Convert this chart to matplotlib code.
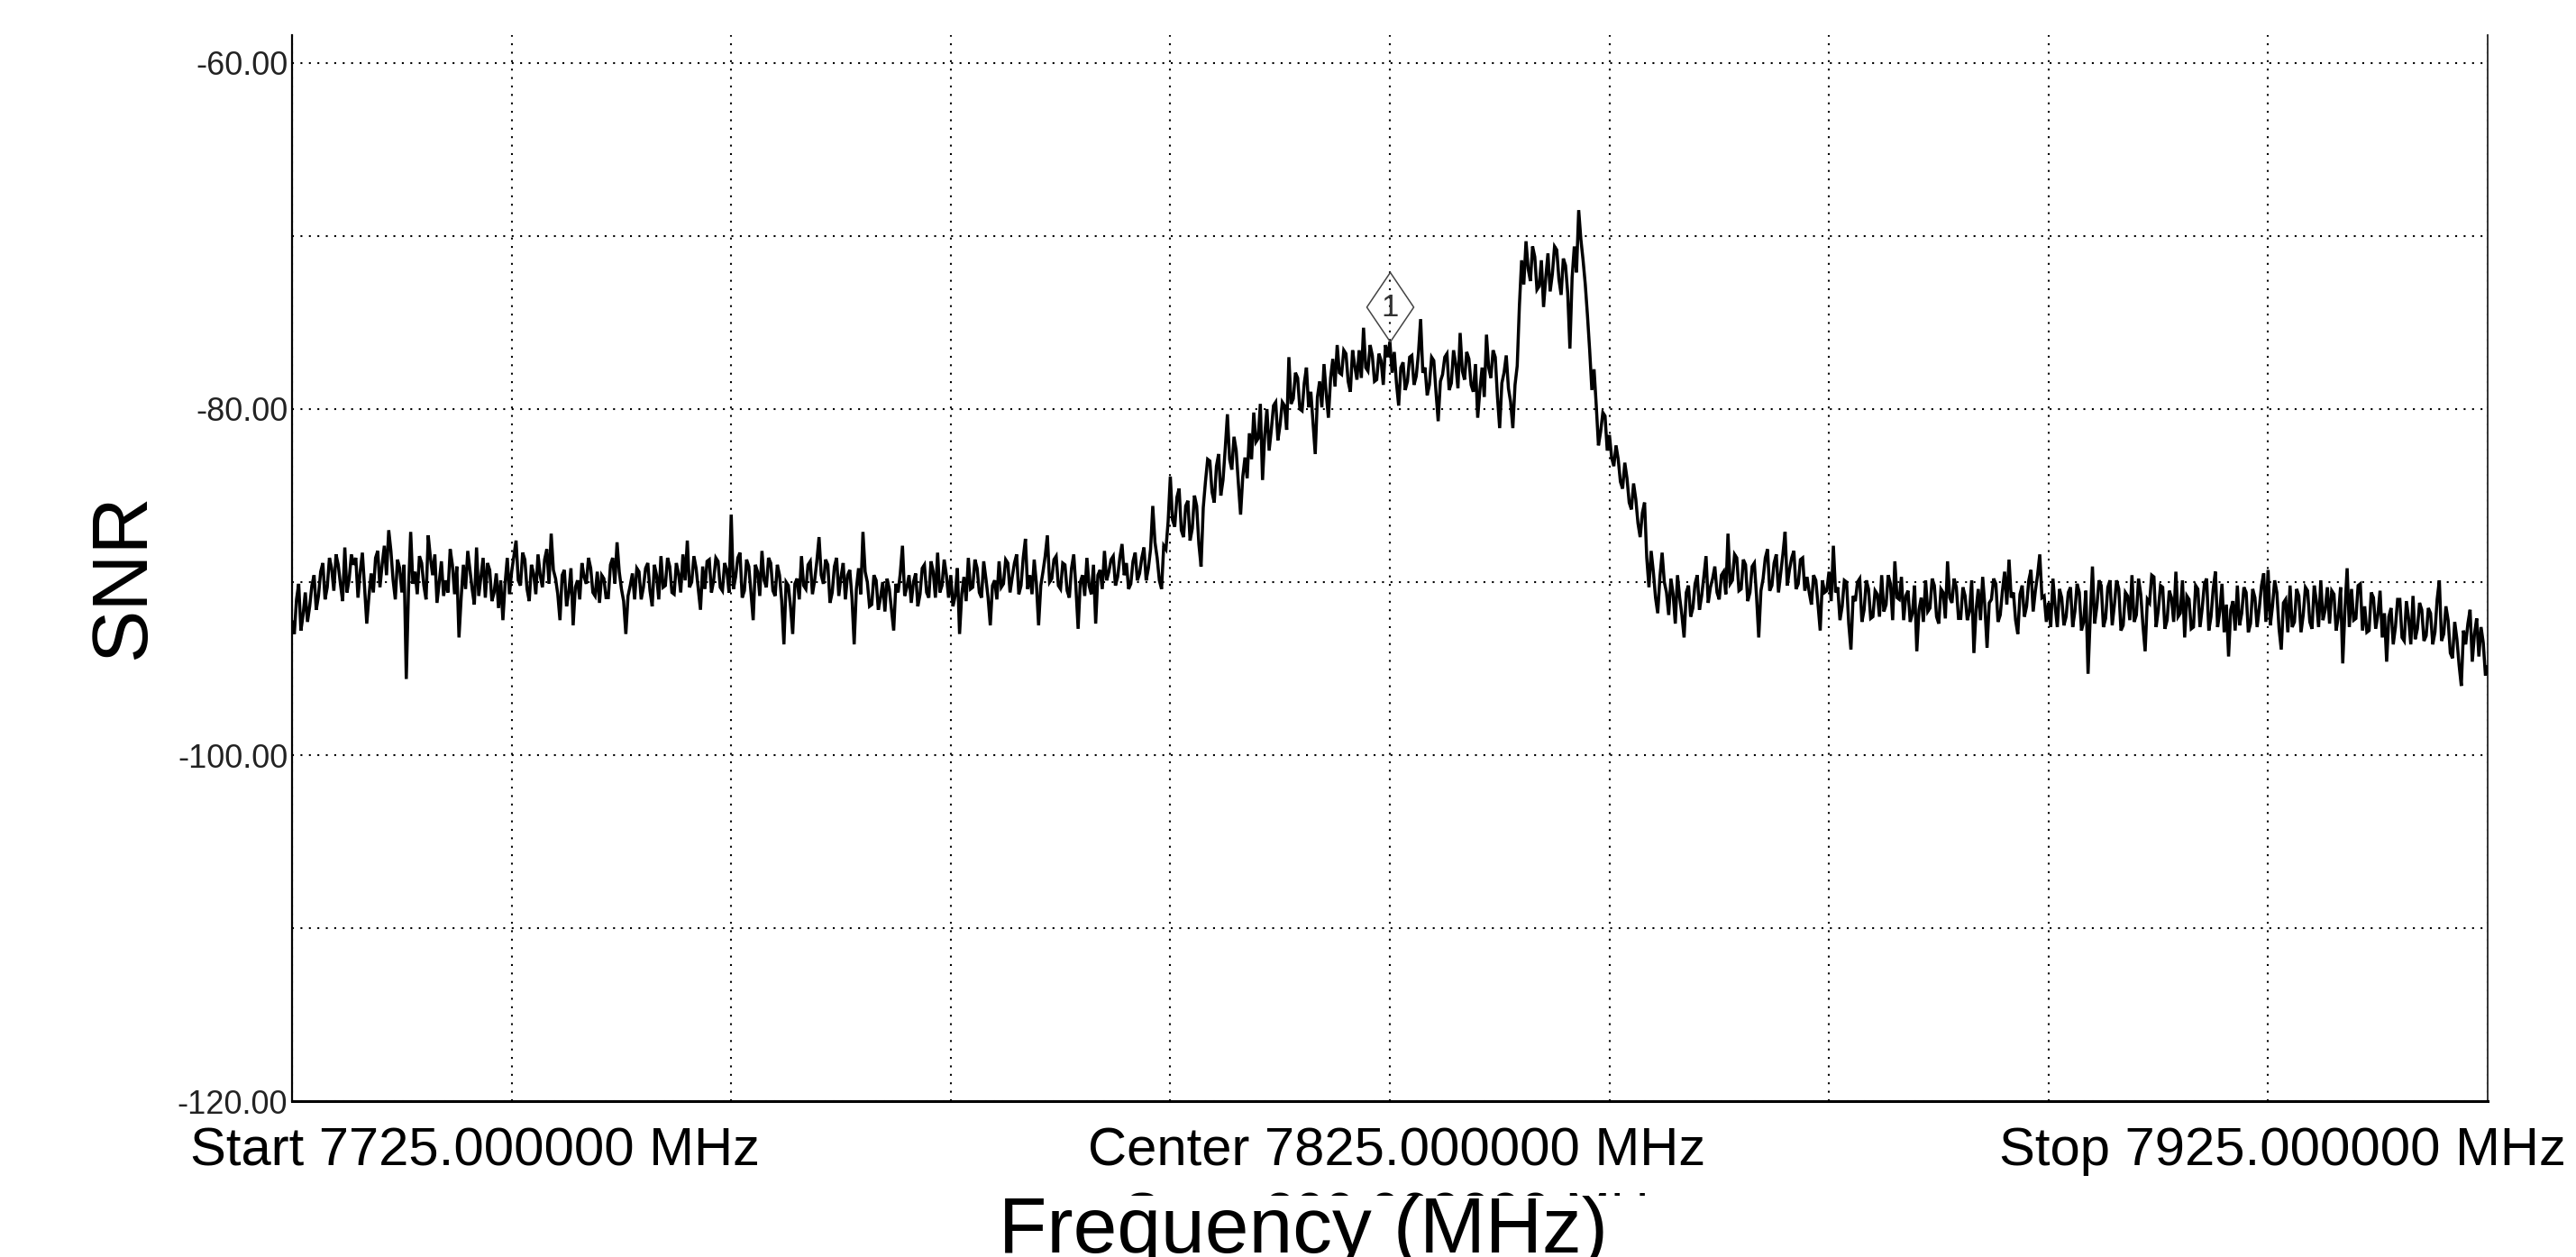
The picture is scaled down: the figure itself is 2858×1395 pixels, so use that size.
import numpy as np
import matplotlib
matplotlib.use("Agg")
import matplotlib.pyplot as plt
from matplotlib.path import Path
from matplotlib.patches import Rectangle

plt.rcParams["font.family"] = ["Liberation Sans", "DejaVu Sans"]

# sweep settings (MHz)
sweep_start = 7725.0
sweep_stop = 7925.0
sweep_center = 7825.0
sweep_span = 200.0

# trace levels on the 0.4 MHz grid, one list per 20 MHz division
level_div1 = [
    -92.3, -91.0, -92.8, -90.6, -91.4, -89.6, -90.8, -88.9, -90.3, -89.2,
    -88.4, -90.1, -88.0, -89.8, -89.0, -90.9, -88.3, -92.4, -89.5, -88.6,
    -90.3, -87.9, -87.0, -89.9, -88.7, -90.6, -95.6, -87.1, -89.4, -88.5,
    -90.2, -87.3, -89.6, -91.2, -88.8, -89.9, -88.1, -90.7, -93.2, -89.0,
    -88.2, -90.4, -88.0, -89.7, -90.9, -89.3, -90.6, -91.5, -92.2, -88.6]
level_div2 = [
    -89.4, -87.6, -90.2, -88.7, -91.1, -89.5, -88.4, -90.3, -88.1, -87.2,
    -89.8, -92.2, -89.3, -90.6, -92.5, -89.9, -88.9, -90.1, -89.2, -90.8,
    -91.2, -89.8, -90.9, -88.6, -87.7, -90.4, -93.0, -90.2, -91.0, -89.4,
    -90.3, -88.9, -91.4, -89.6, -88.5, -90.2, -89.1, -90.7, -89.5, -88.4,
    -87.6, -90.0, -89.2, -91.6, -90.4, -88.7, -89.9, -88.8, -90.5, -89.3]
level_div3 = [
    -86.1, -89.7, -88.3, -90.5, -89.1, -92.2, -89.4, -88.2, -90.3, -88.9,
    -90.8, -89.6, -93.6, -90.2, -93.0, -89.8, -88.5, -90.4, -88.8, -89.9,
    -87.4, -90.1, -89.0, -90.6, -88.6, -89.7, -91.0, -89.3, -93.6, -89.2,
    -87.1, -90.0, -91.3, -89.9, -90.9, -91.7, -90.4, -92.8, -90.6, -87.9,
    -90.3, -91.2, -89.5, -90.7, -89.0, -90.9, -89.4, -88.3, -90.2, -89.6]
level_div4 = [
    -89.6, -90.8, -93.0, -89.7, -88.6, -90.3, -89.2, -90.9, -89.8, -92.5,
    -89.9, -88.8, -90.1, -88.9, -89.7, -88.4, -90.2, -87.5, -89.6, -88.7,
    -92.5, -89.4, -87.3, -89.8, -88.5, -90.4, -89.0, -90.9, -88.4, -92.7,
    -89.6, -88.6, -90.7, -92.4, -89.3, -88.2, -89.4, -88.5, -89.7, -87.8,
    -88.9, -90.1, -88.3, -89.5, -88.0, -89.2, -85.6, -88.6, -90.4, -88.1]
level_div5 = [
    -83.9, -86.8, -84.6, -87.4, -85.3, -86.9, -85.6, -89.1, -84.2, -83.0,
    -85.4, -82.6, -84.1, -80.3, -83.5, -82.4, -86.1, -82.8, -81.4, -80.2,
    -81.7, -84.1, -80.0, -81.2, -79.6, -80.9, -79.8, -77.0, -79.4, -78.2,
    -80.1, -77.6, -79.0, -82.6, -78.4, -77.4, -80.5, -77.1, -76.3, -78.0,
    -76.8, -79.0, -77.5, -76.6, -75.3, -77.8, -76.9, -78.3, -77.2, -76.3]
level_div6 = [
    -76.1, -76.7, -79.8, -77.3, -78.4, -76.9, -78.1, -74.8, -77.6, -78.6,
    -77.2, -80.7, -78.0, -76.8, -78.5, -77.4, -75.6, -78.3, -77.1, -79.0,
    -80.5, -77.6, -75.7, -78.2, -77.0, -81.1, -77.9, -78.8, -81.1, -77.5,
    -71.4, -70.3, -72.6, -71.2, -72.9, -74.1, -71.0, -72.2, -70.8, -73.4,
    -71.7, -76.5, -70.6, -68.5, -71.4, -74.6, -78.9, -79.8, -81.3, -80.4]
level_div7 = [
    -81.5, -83.3, -82.9, -84.6, -84.0, -85.8, -85.2, -87.4, -85.4, -90.3,
    -89.4, -91.8, -88.3, -90.6, -89.8, -92.4, -90.9, -93.2, -90.2, -91.5,
    -89.6, -90.8, -88.5, -90.3, -89.1, -91.0, -89.4, -87.2, -89.9, -88.6,
    -90.4, -89.0, -90.6, -88.9, -93.2, -89.8, -88.1, -90.2, -88.4, -89.5,
    -87.1, -89.3, -88.2, -90.1, -88.6, -89.7, -91.3, -89.9, -92.8, -90.6]
level_div8 = [
    -89.4, -87.9, -90.3, -91.4, -90.0, -93.9, -91.1, -89.8, -91.6, -90.4,
    -92.0, -90.7, -89.6, -91.3, -90.1, -88.8, -91.0, -92.2, -90.5, -91.8,
    -94.0, -90.9, -89.9, -91.5, -90.2, -92.4, -90.6, -88.8, -91.2, -90.3,
    -92.1, -90.8, -91.7, -94.1, -90.4, -89.7, -93.8, -91.0, -90.1, -91.9,
    -89.4, -88.7, -90.6, -93.0, -90.2, -91.4, -89.3, -90.5, -88.4, -90.8]
level_div9 = [
    -91.2, -89.8, -92.6, -90.9, -92.0, -90.3, -91.7, -90.6, -92.3, -95.3,
    -89.1, -91.4, -90.2, -92.1, -89.9, -91.3, -90.4, -92.5, -90.8, -89.6,
    -91.9, -90.7, -94.0, -91.2, -89.7, -91.6, -90.3, -92.2, -90.9, -89.4,
    -91.8, -93.2, -91.0, -92.6, -90.4, -91.5, -89.8, -92.0, -89.4, -91.7,
    -92.9, -94.3, -91.1, -90.2, -91.8, -90.6, -92.4, -90.9, -91.5, -89.5]
level_div10 = [
    -89.3, -91.4, -90.6, -93.9, -91.0, -90.2, -92.3, -90.8, -91.9, -90.5,
    -92.7, -91.1, -89.9, -91.6, -92.4, -90.7, -92.0, -94.7, -89.2, -90.4,
    -92.1, -90.1, -91.4, -92.8, -90.9, -91.9, -93.2, -94.6, -91.5, -92.6,
    -91.0, -93.4, -92.1, -90.8, -92.7, -91.6, -93.1, -91.8, -92.9, -89.9,
    -93.0, -92.2, -94.4, -93.3, -96.0, -93.6, -91.6, -93.0, -94.3, -93.5,
    -94.9]

# readings halfway between the grid points above (0.2 MHz offset)
mid_div1 = [
    -93.0, -90.1, -91.9, -92.3, -90.2, -91.6, -89.4, -91.0, -88.6, -90.5,
    -89.0, -91.1, -90.6, -88.4, -88.6, -89.4, -90.3, -90.8, -90.6, -88.2,
    -89.0, -89.6, -88.2, -91.0, -89.2, -89.0, -90.5, -90.1, -90.7, -88.9,
    -91.0, -88.6, -88.4, -90.0, -90.8, -90.6, -89.0, -89.1, -90.9, -90.4,
    -89.3, -91.3, -90.8, -88.6, -88.9, -91.1, -89.5, -89.9, -90.1, -90.7]
mid_div2 = [
    -88.5, -89.9, -88.3, -90.4, -89.0, -90.7, -89.6, -88.7, -90.1, -89.3,
    -90.7, -89.6, -91.4, -89.2, -90.3, -91.0, -89.7, -88.6, -90.6, -89.4,
    -89.6, -90.9, -89.0, -90.1, -89.4, -91.1, -90.8, -89.5, -89.2, -91.0,
    -89.2, -90.5, -89.0, -91.0, -90.3, -88.6, -90.6, -88.9, -90.6, -89.9,
    -90.3, -88.5, -90.4, -89.1, -88.8, -90.6, -88.6, -90.3, -88.9, -90.6]
mid_div3 = [
    -90.4, -88.6, -90.9, -88.7, -90.6, -89.0, -90.8, -89.9, -88.6, -90.5,
    -89.0, -91.1, -90.0, -91.4, -90.1, -91.0, -90.2, -89.0, -90.7, -88.8,
    -89.6, -88.7, -91.2, -89.1, -90.8, -88.9, -89.6, -90.9, -90.4, -90.7,
    -89.4, -91.4, -89.6, -91.6, -90.0, -89.8, -91.6, -90.1, -89.5, -90.8,
    -89.6, -90.0, -91.4, -89.2, -90.6, -88.8, -90.9, -90.6, -88.7, -90.9]
mid_div4 = [
    -91.4, -89.2, -90.7, -91.1, -90.4, -88.7, -90.6, -88.8, -90.9, -90.2,
    -91.0, -90.3, -88.7, -90.6, -88.9, -90.7, -88.6, -90.4, -90.7, -90.1,
    -90.2, -88.5, -90.0, -88.7, -90.2, -88.9, -90.5, -89.2, -90.3, -90.0,
    -90.8, -90.2, -89.0, -89.6, -90.4, -89.9, -88.7, -90.2, -88.6, -89.6,
    -90.4, -88.8, -89.9, -88.6, -89.9, -88.1, -87.7, -89.9, -87.9, -86.5]
mid_div5 = [
    -86.4, -85.1, -87.0, -85.6, -87.6, -85.0, -87.8, -85.7, -82.9, -84.8,
    -83.3, -85.0, -82.3, -82.9, -81.6, -84.3, -83.9, -84.0, -82.9, -81.9,
    -79.7, -81.5, -82.4, -79.8, -81.8, -79.6, -81.2, -79.7, -77.9, -80.0,
    -78.5, -79.9, -80.8, -79.3, -79.9, -79.1, -78.2, -78.7, -77.9, -76.6,
    -78.4, -76.6, -78.3, -78.2, -77.6, -76.3, -78.4, -76.8, -78.6, -77.0]
mid_div6 = [
    -77.9, -78.5, -77.6, -78.9, -77.0, -78.6, -76.8, -77.9, -79.2, -77.0,
    -79.0, -78.4, -77.0, -78.9, -76.6, -78.8, -77.8, -76.7, -78.6, -77.4,
    -78.9, -79.3, -77.6, -76.6, -79.3, -78.5, -76.9, -79.6, -78.6, -74.0,
    -72.8, -71.9, -70.6, -73.1, -71.4, -72.4, -73.2, -70.6, -72.5, -71.3,
    -73.3, -72.4, -72.1, -70.2, -72.8, -76.6, -77.7, -82.1, -80.2, -82.4]
mid_div7 = [
    -82.8, -82.1, -84.2, -83.1, -85.4, -84.3, -86.6, -86.0, -88.6, -88.2,
    -90.9, -89.7, -90.0, -91.9, -90.7, -89.6, -91.9, -90.6, -92.0, -90.1,
    -91.6, -89.7, -91.2, -89.8, -90.6, -89.6, -90.7, -90.1, -88.4, -90.5,
    -88.7, -91.1, -89.1, -90.8, -90.5, -88.6, -90.5, -88.9, -90.6, -88.4,
    -90.2, -88.6, -90.4, -88.7, -90.5, -90.6, -89.6, -91.3, -89.9, -90.5]
mid_div8 = [
    -91.1, -90.6, -92.2, -89.9, -92.4, -90.8, -90.0, -92.3, -89.9, -92.1,
    -90.5, -92.0, -91.7, -89.6, -92.2, -90.9, -89.7, -90.8, -92.3, -90.2,
    -91.6, -92.3, -91.7, -89.8, -92.0, -90.4, -92.1, -90.9, -89.8, -92.1,
    -90.3, -92.2, -89.9, -91.6, -92.2, -91.4, -91.2, -89.8, -92.3, -90.5,
    -91.3, -90.9, -92.2, -90.7, -92.0, -89.9, -91.7, -89.6, -90.9, -92.3]
mid_div9 = [
    -92.6, -91.4, -90.4, -92.5, -90.6, -92.6, -90.1, -92.8, -90.5, -92.0,
    -92.4, -89.9, -92.6, -90.3, -92.5, -89.9, -92.8, -90.6, -92.2, -92.3,
    -89.8, -92.5, -91.0, -89.6, -92.6, -90.2, -92.7, -90.5, -92.3, -92.0,
    -89.9, -90.8, -92.7, -90.2, -92.6, -90.1, -92.8, -90.4, -92.6, -90.1,
    -91.3, -91.6, -92.8, -92.5, -90.3, -92.9, -90.4, -92.6, -90.2, -92.3]
mid_div10 = [
    -92.5, -89.9, -92.7, -91.2, -92.9, -92.6, -90.4, -92.9, -90.3, -92.3,
    -90.2, -92.6, -92.2, -90.3, -90.5, -92.8, -90.3, -91.6, -92.6, -92.2,
    -90.2, -92.8, -92.9, -90.6, -92.7, -90.5, -91.8, -92.0, -93.6, -91.0,
    -93.2, -91.1, -93.6, -93.3, -91.2, -93.4, -91.5, -93.6, -91.0, -93.4,
    -91.4, -94.1, -92.3, -94.8, -92.8, -92.4, -94.6, -92.1, -92.6, -95.4]

# marker 1
marker_freq = 7825.0
marker_level = -76.1

y_ticks = [-60, -80, -100, -120]
y_grid = [-110, -90, -70]

grid_levels = (level_div1 + level_div2 + level_div3 + level_div4 + level_div5
               + level_div6 + level_div7 + level_div8 + level_div9 + level_div10)
mid_levels = (mid_div1 + mid_div2 + mid_div3 + mid_div4 + mid_div5
              + mid_div6 + mid_div7 + mid_div8 + mid_div9 + mid_div10)
levels = np.empty(len(grid_levels) + len(mid_levels))
levels[0::2] = grid_levels
levels[1::2] = mid_levels
freqs = np.linspace(sweep_start, sweep_stop, len(levels))

fig = plt.figure(figsize=(28.58, 13.95), dpi=100)
ax = fig.add_axes([0.1134, 0.124, 0.8523, 0.848])

ax.plot(freqs, levels, color="black", linewidth=2.5, solid_joinstyle="miter",
        zorder=3)

# diamond marker sitting on the trace, tip at the marker point
diamond = Path([(0, 0), (-0.3377, 0.5), (0, 1), (0.3377, 0.5), (0, 0)],
               [Path.MOVETO, Path.LINETO, Path.LINETO, Path.LINETO, Path.CLOSEPOLY])
ax.plot([marker_freq], [marker_level], marker=diamond, markersize=111,
        markerfacecolor="none", markeredgecolor="#444444", markeredgewidth=1.1,
        linestyle="none", zorder=4)
ax.annotate("1", xy=(marker_freq, marker_level), xytext=(0, 27),
            textcoords="offset points", ha="center", va="center",
            fontsize=25, color="#333333", zorder=5)

ax.set_xlim(sweep_start, sweep_stop)
ax.set_ylim(-120, -58.39)
ax.set_xticks(np.arange(sweep_start, sweep_stop + 1, 20))
ax.set_xticklabels([])
ax.set_yticks(y_ticks)
ax.set_yticklabels(["%.2f" % v for v in y_ticks])
ax.set_yticks(y_grid, minor=True)
ax.tick_params(axis="both", which="both", length=0)
ax.tick_params(axis="y", labelsize=26, labelcolor="#222222", pad=3.5)
ax.grid(True, which="both", color="black", linestyle=(0, (1, 3.5)), linewidth=1.5)

ax.spines["top"].set_visible(False)
ax.spines["left"].set_linewidth(1.6)
ax.spines["right"].set_linewidth(1.4)
ax.spines["right"].set_color("#333333")
ax.spines["bottom"].set_linewidth(2.2)

# analyzer annotations under the grid
fig.text(0.0738, 0.0731, "Start %.6f MHz" % sweep_start, fontsize=43,
         ha="left", va="baseline")
fig.text(0.5423, 0.0731, "Center %.6f MHz" % sweep_center, fontsize=43,
         ha="center", va="baseline")
fig.text(0.9962, 0.0731, "Stop %.6f MHz" % sweep_stop, fontsize=43,
         ha="right", va="baseline")
fig.text(0.5434, 0.0215, "Span %.6f MHz" % sweep_span, fontsize=43,
         ha="center", va="baseline", zorder=3)
fig.patches.append(Rectangle((0.385, 0.0), 0.28, 0.0487, transform=fig.transFigure,
                             facecolor="white", edgecolor="none", zorder=4))

fig.text(0.506, 0.0036, "Frequency (MHz)", fontsize=63, ha="center",
         va="baseline", zorder=5)
fig.text(0.0483, 0.5412, "SNR", fontsize=63, rotation=90, ha="center",
         va="center")

fig.savefig("out.png", dpi=100)
